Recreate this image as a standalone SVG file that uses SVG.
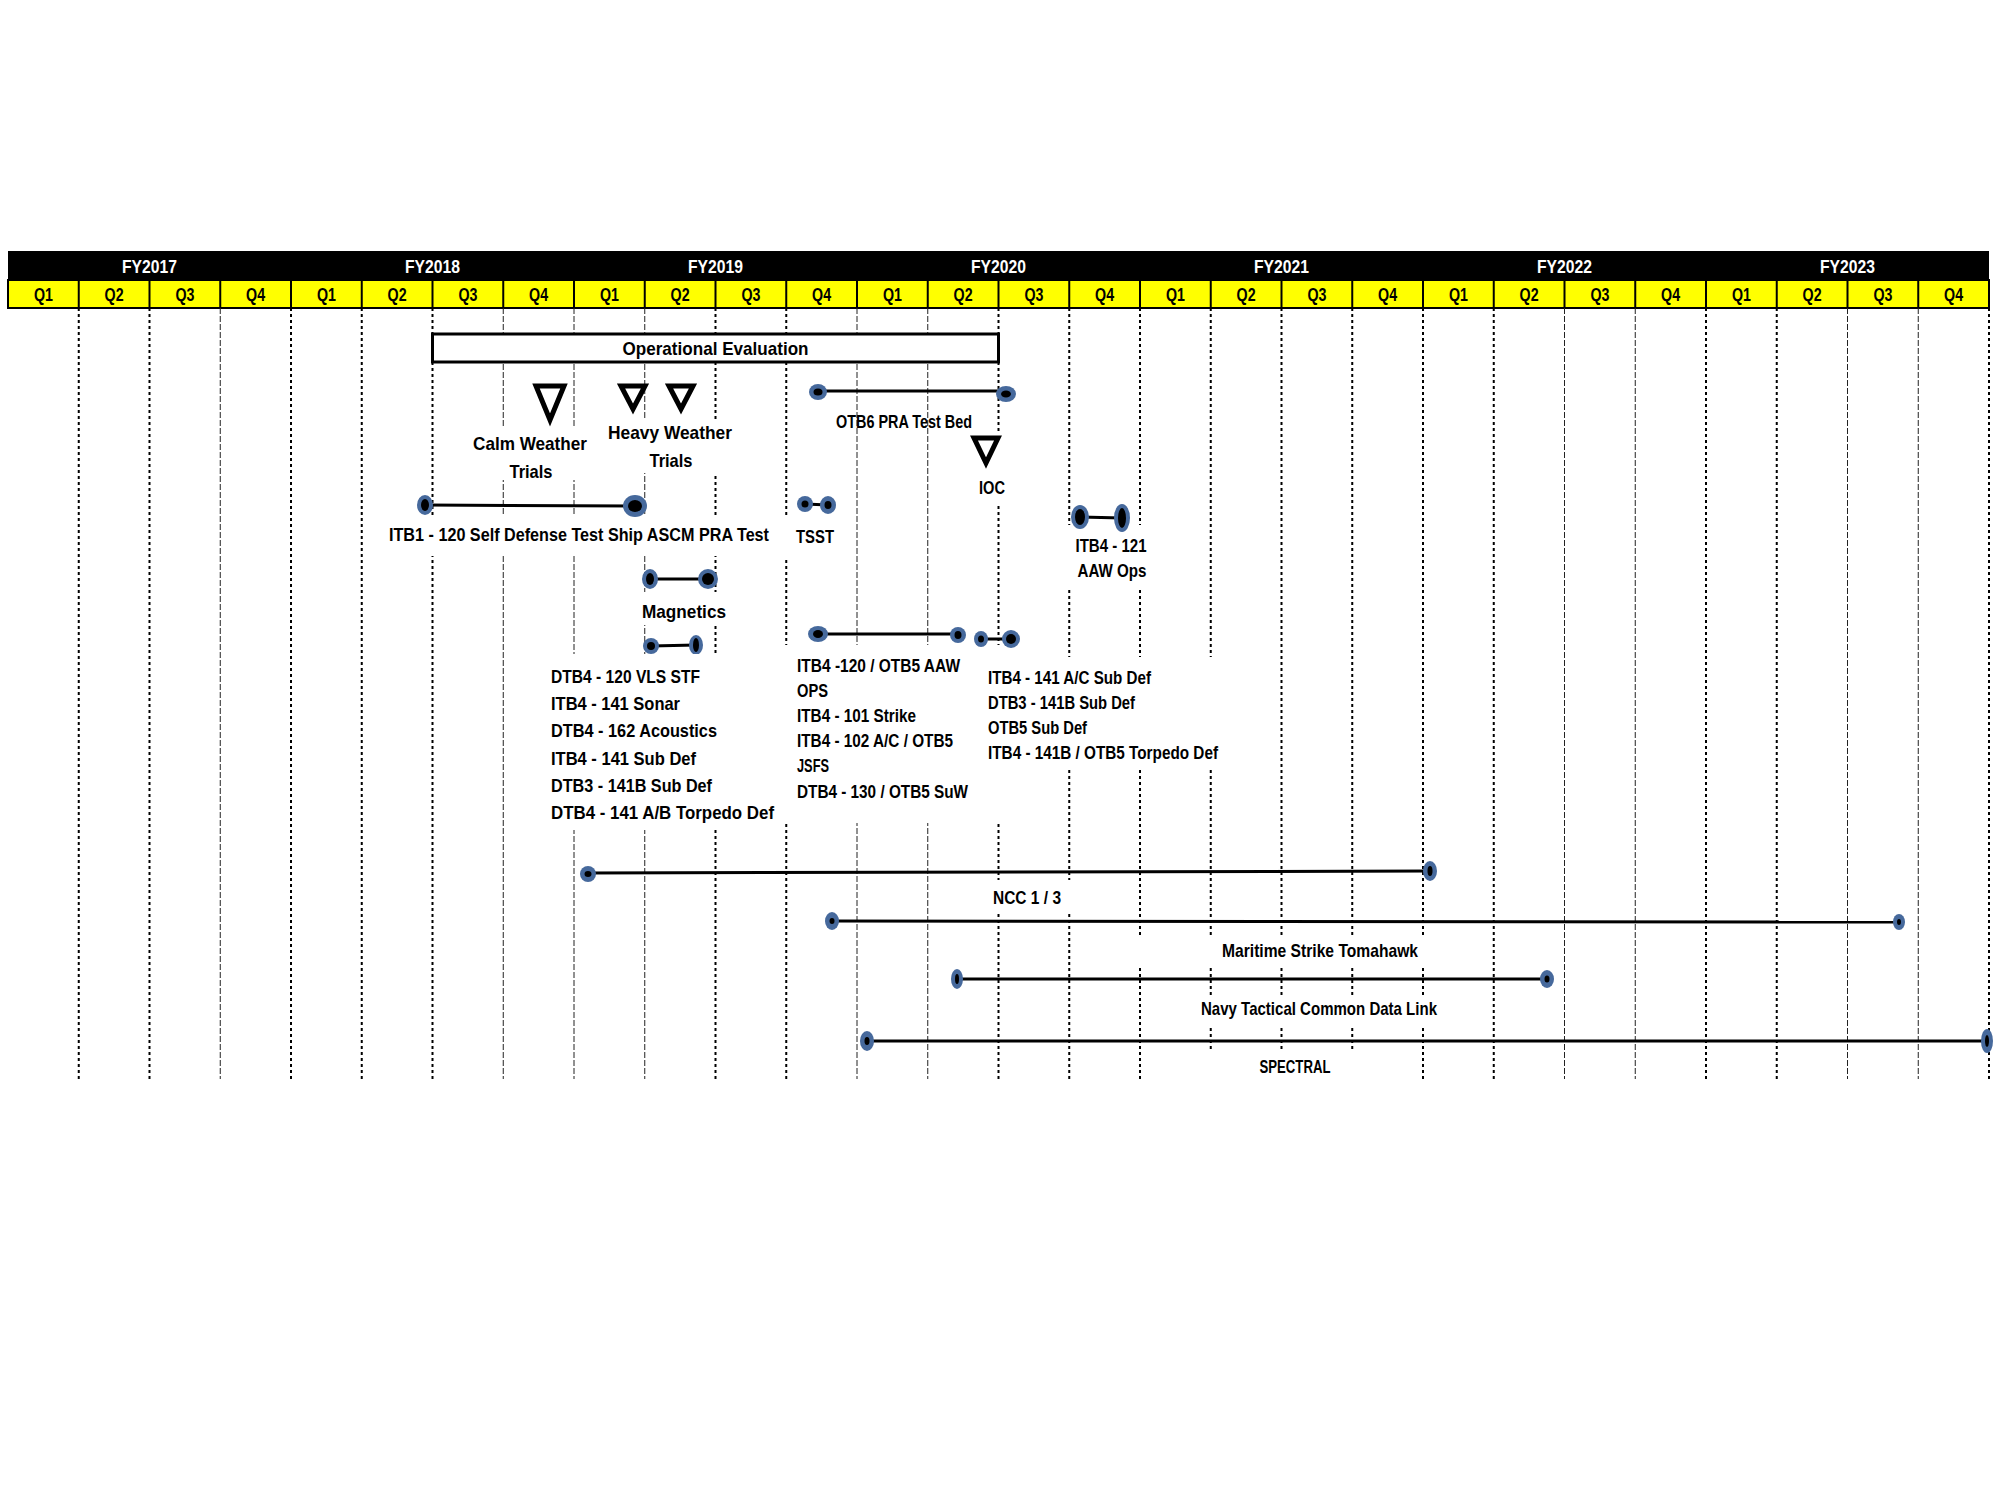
<svg xmlns="http://www.w3.org/2000/svg" width="2000" height="1500" viewBox="0 0 2000 1500">
<style>
text{font-family:"Liberation Sans",Arial,sans-serif;font-weight:bold;font-size:19px;fill:#000}
.fy{fill:#fff;text-anchor:middle}
.q{text-anchor:middle}
.c{text-anchor:middle}
.gd{stroke:#000;stroke-width:2;stroke-dasharray:3 3}
.gt{stroke:#222;stroke-width:1;stroke-dasharray:6 2}
.bar{stroke:#000;stroke-width:3;fill:none}
.dot{fill:#46699c}
.core{fill:#000}
.tri{fill:#fff;stroke:#000;stroke-width:5;stroke-linejoin:miter}
.bg{fill:#fff}
.qdiv{stroke:#000;stroke-width:2}
</style>
<rect width="2000" height="1500" fill="#fff"/>
<g id="header">
<rect x="8" y="251" width="1981" height="29" fill="#000"/>
<rect x="8" y="280" width="1981" height="28" fill="#ffff00" stroke="#000" stroke-width="2"/>
<g class="qdiv">
<line x1="78.75" y1="280" x2="78.75" y2="308"/><line x1="149.5" y1="280" x2="149.5" y2="308"/><line x1="220.25" y1="280" x2="220.25" y2="308"/><line x1="291" y1="280" x2="291" y2="308"/><line x1="361.75" y1="280" x2="361.75" y2="308"/><line x1="432.5" y1="280" x2="432.5" y2="308"/><line x1="503.25" y1="280" x2="503.25" y2="308"/><line x1="574" y1="280" x2="574" y2="308"/><line x1="644.75" y1="280" x2="644.75" y2="308"/><line x1="715.5" y1="280" x2="715.5" y2="308"/><line x1="786.25" y1="280" x2="786.25" y2="308"/><line x1="857" y1="280" x2="857" y2="308"/><line x1="927.75" y1="280" x2="927.75" y2="308"/><line x1="998.5" y1="280" x2="998.5" y2="308"/><line x1="1069.25" y1="280" x2="1069.25" y2="308"/><line x1="1140" y1="280" x2="1140" y2="308"/><line x1="1210.75" y1="280" x2="1210.75" y2="308"/><line x1="1281.5" y1="280" x2="1281.5" y2="308"/><line x1="1352.25" y1="280" x2="1352.25" y2="308"/><line x1="1423" y1="280" x2="1423" y2="308"/><line x1="1493.75" y1="280" x2="1493.75" y2="308"/><line x1="1564.5" y1="280" x2="1564.5" y2="308"/><line x1="1635.25" y1="280" x2="1635.25" y2="308"/><line x1="1706" y1="280" x2="1706" y2="308"/><line x1="1776.75" y1="280" x2="1776.75" y2="308"/><line x1="1847.5" y1="280" x2="1847.5" y2="308"/><line x1="1918.25" y1="280" x2="1918.25" y2="308"/>
</g>
<text class="fy" x="149.5" y="272.5" textLength="55" lengthAdjust="spacingAndGlyphs">FY2017</text>
<text class="fy" x="432.5" y="272.5" textLength="55" lengthAdjust="spacingAndGlyphs">FY2018</text>
<text class="fy" x="715.5" y="272.5" textLength="55" lengthAdjust="spacingAndGlyphs">FY2019</text>
<text class="fy" x="998.5" y="272.5" textLength="55" lengthAdjust="spacingAndGlyphs">FY2020</text>
<text class="fy" x="1281.5" y="272.5" textLength="55" lengthAdjust="spacingAndGlyphs">FY2021</text>
<text class="fy" x="1564.5" y="272.5" textLength="55" lengthAdjust="spacingAndGlyphs">FY2022</text>
<text class="fy" x="1847.5" y="272.5" textLength="55" lengthAdjust="spacingAndGlyphs">FY2023</text>
<g font-size="19">
<text class="q" x="43.4" y="301" textLength="19" lengthAdjust="spacingAndGlyphs">Q1</text><text class="q" x="114.1" y="301" textLength="19" lengthAdjust="spacingAndGlyphs">Q2</text><text class="q" x="184.9" y="301" textLength="19" lengthAdjust="spacingAndGlyphs">Q3</text><text class="q" x="255.6" y="301" textLength="19" lengthAdjust="spacingAndGlyphs">Q4</text>
<text class="q" x="326.4" y="301" textLength="19" lengthAdjust="spacingAndGlyphs">Q1</text><text class="q" x="397.1" y="301" textLength="19" lengthAdjust="spacingAndGlyphs">Q2</text><text class="q" x="467.9" y="301" textLength="19" lengthAdjust="spacingAndGlyphs">Q3</text><text class="q" x="538.6" y="301" textLength="19" lengthAdjust="spacingAndGlyphs">Q4</text>
<text class="q" x="609.4" y="301" textLength="19" lengthAdjust="spacingAndGlyphs">Q1</text><text class="q" x="680.1" y="301" textLength="19" lengthAdjust="spacingAndGlyphs">Q2</text><text class="q" x="750.9" y="301" textLength="19" lengthAdjust="spacingAndGlyphs">Q3</text><text class="q" x="821.6" y="301" textLength="19" lengthAdjust="spacingAndGlyphs">Q4</text>
<text class="q" x="892.4" y="301" textLength="19" lengthAdjust="spacingAndGlyphs">Q1</text><text class="q" x="963.1" y="301" textLength="19" lengthAdjust="spacingAndGlyphs">Q2</text><text class="q" x="1033.9" y="301" textLength="19" lengthAdjust="spacingAndGlyphs">Q3</text><text class="q" x="1104.6" y="301" textLength="19" lengthAdjust="spacingAndGlyphs">Q4</text>
<text class="q" x="1175.4" y="301" textLength="19" lengthAdjust="spacingAndGlyphs">Q1</text><text class="q" x="1246.1" y="301" textLength="19" lengthAdjust="spacingAndGlyphs">Q2</text><text class="q" x="1316.9" y="301" textLength="19" lengthAdjust="spacingAndGlyphs">Q3</text><text class="q" x="1387.6" y="301" textLength="19" lengthAdjust="spacingAndGlyphs">Q4</text>
<text class="q" x="1458.4" y="301" textLength="19" lengthAdjust="spacingAndGlyphs">Q1</text><text class="q" x="1529.1" y="301" textLength="19" lengthAdjust="spacingAndGlyphs">Q2</text><text class="q" x="1599.9" y="301" textLength="19" lengthAdjust="spacingAndGlyphs">Q3</text><text class="q" x="1670.6" y="301" textLength="19" lengthAdjust="spacingAndGlyphs">Q4</text>
<text class="q" x="1741.4" y="301" textLength="19" lengthAdjust="spacingAndGlyphs">Q1</text><text class="q" x="1812.1" y="301" textLength="19" lengthAdjust="spacingAndGlyphs">Q2</text><text class="q" x="1882.9" y="301" textLength="19" lengthAdjust="spacingAndGlyphs">Q3</text><text class="q" x="1953.6" y="301" textLength="19" lengthAdjust="spacingAndGlyphs">Q4</text>
</g>
</g>
<g id="grid">
<line class="gd" x1="78.75" y1="308" x2="78.75" y2="1079"/><line class="gd" x1="149.5" y1="308" x2="149.5" y2="1079"/><line class="gt" x1="220.25" y1="308" x2="220.25" y2="1079"/><line class="gd" x1="291" y1="308" x2="291" y2="1079"/><line class="gd" x1="361.75" y1="308" x2="361.75" y2="1079"/><line class="gd" x1="432.5" y1="308" x2="432.5" y2="1079"/><line class="gt" x1="503.25" y1="308" x2="503.25" y2="1079"/><line class="gt" x1="574" y1="308" x2="574" y2="1079"/><line class="gt" x1="644.75" y1="308" x2="644.75" y2="1079"/><line class="gd" x1="715.5" y1="308" x2="715.5" y2="1079"/><line class="gd" x1="786.25" y1="308" x2="786.25" y2="1079"/><line class="gt" x1="857" y1="308" x2="857" y2="1079"/><line class="gt" x1="927.75" y1="308" x2="927.75" y2="1079"/><line class="gd" x1="998.5" y1="308" x2="998.5" y2="1079"/><line class="gd" x1="1069.25" y1="308" x2="1069.25" y2="1079"/><line class="gd" x1="1140" y1="308" x2="1140" y2="1079"/><line class="gd" x1="1210.75" y1="308" x2="1210.75" y2="1079"/><line class="gd" x1="1281.5" y1="308" x2="1281.5" y2="1079"/><line class="gd" x1="1352.25" y1="308" x2="1352.25" y2="1079"/><line class="gd" x1="1423" y1="308" x2="1423" y2="1079"/><line class="gd" x1="1493.75" y1="308" x2="1493.75" y2="1079"/><line class="gt" x1="1564.5" y1="308" x2="1564.5" y2="1079"/><line class="gt" x1="1635.25" y1="308" x2="1635.25" y2="1079"/><line class="gd" x1="1706" y1="308" x2="1706" y2="1079"/><line class="gd" x1="1776.75" y1="308" x2="1776.75" y2="1079"/><line class="gt" x1="1847.5" y1="308" x2="1847.5" y2="1079"/><line class="gt" x1="1918.25" y1="308" x2="1918.25" y2="1079"/><line class="gd" x1="1989" y1="308" x2="1989" y2="1079"/>
</g>
<g id="connectors">
<line class="bar" x1="818" y1="391" x2="1006" y2="391"/>
<line class="bar" x1="425" y1="505" x2="635" y2="506"/>
<line class="bar" x1="805" y1="504" x2="828" y2="505"/>
<line class="bar" x1="1080" y1="517" x2="1122" y2="518"/>
<line class="bar" x1="650" y1="579" x2="708" y2="579"/>
<line class="bar" x1="651" y1="646" x2="696" y2="645"/>
<line class="bar" x1="818" y1="634" x2="958" y2="634"/>
<line class="bar" x1="981" y1="639" x2="1011" y2="639"/>
<line class="bar" x1="588" y1="873" x2="1430" y2="871" stroke-width="3.5"/>
<line class="bar" x1="832" y1="921" x2="1899" y2="922"/>
<line class="bar" x1="957" y1="979" x2="1547" y2="979"/>
<line class="bar" x1="867" y1="1041" x2="1986" y2="1041" stroke-width="4"/>
</g>
<g id="op-eval">
<rect x="432.5" y="334" width="566" height="28" fill="#fff" stroke="#000" stroke-width="3"/>
<text class="c" x="715.5" y="355" textLength="186" lengthAdjust="spacingAndGlyphs">Operational Evaluation</text>
</g>
<g id="calm-weather">
<rect class="bg" x="472" y="428" width="116" height="52"/>
<polygon class="tri" points="536,386 564,386 550,420"/>
<text class="c" x="530" y="450" textLength="114" lengthAdjust="spacingAndGlyphs">Calm Weather</text>
<text class="c" x="531" y="478" textLength="43" lengthAdjust="spacingAndGlyphs">Trials</text>
</g>
<g id="heavy-weather">
<rect class="bg" x="603" y="419" width="137" height="54"/>
<polygon class="tri" points="621,386 645,386 633,409"/>
<polygon class="tri" points="669,386 693,386 681,409"/>
<text class="c" x="670" y="439" textLength="124" lengthAdjust="spacingAndGlyphs">Heavy Weather</text>
<text class="c" x="671" y="467" textLength="43" lengthAdjust="spacingAndGlyphs">Trials</text>
</g>
<g id="otb6">
<ellipse class="dot" cx="818" cy="392" rx="9" ry="8"/><ellipse class="core" cx="818" cy="392" rx="4.5" ry="3.5"/>
<ellipse class="dot" cx="1006" cy="394" rx="10" ry="8"/><ellipse class="core" cx="1006" cy="394" rx="5" ry="3.5"/>
<text class="c" x="904" y="428" textLength="136" lengthAdjust="spacingAndGlyphs">OTB6 PRA Test Bed</text>
</g>
<g id="ioc">
<rect class="bg" x="965" y="432" width="40" height="73"/>
<polygon class="tri" points="974,438 998,438 986,463"/>
<text class="c" x="992" y="494" textLength="26" lengthAdjust="spacingAndGlyphs">IOC</text>
</g>
<g id="itb1">
<rect class="bg" x="386" y="516" width="389" height="40"/>
<ellipse class="dot" cx="425" cy="505" rx="8" ry="10"/><ellipse class="core" cx="425" cy="505" rx="4" ry="6"/>
<ellipse class="dot" cx="635" cy="506" rx="12" ry="11"/><ellipse class="core" cx="635" cy="506" rx="7" ry="6"/>
<text class="c" x="579" y="541" textLength="380" lengthAdjust="spacingAndGlyphs">ITB1 - 120 Self Defense Test Ship ASCM PRA Test</text>
</g>
<g id="tsst">
<rect class="bg" x="780" y="515" width="60" height="42"/>
<ellipse class="dot" cx="805" cy="504" rx="8" ry="8"/><ellipse class="core" cx="805" cy="504" rx="3.5" ry="3.5"/>
<ellipse class="dot" cx="828" cy="505" rx="8" ry="9"/><ellipse class="core" cx="828" cy="505" rx="3.5" ry="4"/>
<text class="c" x="815" y="543" textLength="38" lengthAdjust="spacingAndGlyphs">TSST</text>
</g>
<g id="itb4-121">
<rect class="bg" x="1063" y="525" width="90" height="63"/>
<ellipse class="dot" cx="1080" cy="517" rx="9" ry="12"/><ellipse class="core" cx="1080" cy="517" rx="5" ry="8"/>
<ellipse class="dot" cx="1122" cy="518" rx="8" ry="14"/><ellipse class="core" cx="1122" cy="518" rx="4" ry="10"/>
<text class="c" x="1111" y="552" textLength="71" lengthAdjust="spacingAndGlyphs">ITB4 - 121</text>
<text class="c" x="1112" y="577" textLength="69" lengthAdjust="spacingAndGlyphs">AAW Ops</text>
</g>
<g id="magnetics">
<rect class="bg" x="640" y="592" width="86" height="33"/>
<ellipse class="dot" cx="650" cy="579" rx="8" ry="10"/><ellipse class="core" cx="650" cy="579" rx="4" ry="6"/>
<ellipse class="dot" cx="708" cy="579" rx="10" ry="10"/><ellipse class="core" cx="708" cy="579" rx="6" ry="6"/>
<text class="c" x="684" y="618" textLength="84" lengthAdjust="spacingAndGlyphs">Magnetics</text>
</g>
<g id="dtb4-bar">
<ellipse class="dot" cx="651" cy="646" rx="8" ry="8"/><ellipse class="core" cx="651" cy="646" rx="4" ry="4"/>
<ellipse class="dot" cx="696" cy="645" rx="7" ry="10"/><ellipse class="core" cx="696" cy="645" rx="3" ry="7"/>
</g>
<g id="dtb4-list">
<rect class="bg" x="545" y="654" width="233" height="176"/>
<text x="551" y="683" textLength="149" lengthAdjust="spacingAndGlyphs">DTB4 - 120 VLS STF</text>
<text x="551" y="710" textLength="129" lengthAdjust="spacingAndGlyphs">ITB4 - 141 Sonar</text>
<text x="551" y="737" textLength="166" lengthAdjust="spacingAndGlyphs">DTB4 - 162 Acoustics</text>
<text x="551" y="765" textLength="145" lengthAdjust="spacingAndGlyphs">ITB4 - 141 Sub Def</text>
<text x="551" y="792" textLength="161" lengthAdjust="spacingAndGlyphs">DTB3 - 141B Sub Def</text>
<text x="551" y="819" textLength="223" lengthAdjust="spacingAndGlyphs">DTB4 - 141 A/B Torpedo Def</text>
</g>
<g id="itb4-120">
<rect class="bg" x="780" y="645" width="222" height="178"/>
<ellipse class="dot" cx="818" cy="634" rx="10" ry="8"/><ellipse class="core" cx="818" cy="634" rx="5" ry="4"/>
<ellipse class="dot" cx="958" cy="635" rx="8" ry="8"/><ellipse class="core" cx="958" cy="635" rx="3.5" ry="4"/>
<text x="797" y="672" textLength="163" lengthAdjust="spacingAndGlyphs">ITB4 -120 / OTB5 AAW</text>
<text x="797" y="697" textLength="31" lengthAdjust="spacingAndGlyphs">OPS</text>
<text x="797" y="722" textLength="119" lengthAdjust="spacingAndGlyphs">ITB4 - 101 Strike</text>
<text x="797" y="747" textLength="156" lengthAdjust="spacingAndGlyphs">ITB4 - 102 A/C / OTB5</text>
<text x="797" y="772" textLength="32" lengthAdjust="spacingAndGlyphs">JSFS</text>
<text x="797" y="798" textLength="171" lengthAdjust="spacingAndGlyphs">DTB4 - 130 / OTB5 SuW</text>
</g>
<g id="itb4-141">
<rect class="bg" x="985" y="657" width="240" height="111"/>
<ellipse class="dot" cx="981" cy="639" rx="7" ry="8"/><ellipse class="core" cx="981" cy="639" rx="3" ry="3.5"/>
<ellipse class="dot" cx="1011" cy="639" rx="9" ry="9"/><ellipse class="core" cx="1011" cy="639" rx="5" ry="5"/>
<text x="988" y="684" textLength="163" lengthAdjust="spacingAndGlyphs">ITB4 - 141 A/C Sub Def</text>
<text x="988" y="709" textLength="147" lengthAdjust="spacingAndGlyphs">DTB3 - 141B Sub Def</text>
<text x="988" y="734" textLength="99" lengthAdjust="spacingAndGlyphs">OTB5 Sub Def</text>
<text x="988" y="759" textLength="230" lengthAdjust="spacingAndGlyphs">ITB4 - 141B / OTB5 Torpedo Def</text>
</g>
<g id="ncc">
<rect class="bg" x="990" y="880" width="90" height="34"/>
<ellipse class="dot" cx="588" cy="874" rx="8" ry="8"/><ellipse class="core" cx="588" cy="874" rx="3.5" ry="3"/>
<ellipse class="dot" cx="1430" cy="871" rx="7" ry="10"/><ellipse class="core" cx="1430" cy="871" rx="2.5" ry="5"/>
<text class="c" x="1027" y="904" font-weight="normal" textLength="68" lengthAdjust="spacingAndGlyphs">NCC 1 / 3</text>
</g>
<g id="maritime">
<rect class="bg" x="1135" y="936" width="300" height="31"/>
<ellipse class="dot" cx="832" cy="921" rx="7" ry="9"/><ellipse class="core" cx="832" cy="921" rx="2.5" ry="3"/>
<ellipse class="dot" cx="1899" cy="922" rx="6" ry="8"/><ellipse class="core" cx="1899" cy="922" rx="2" ry="3"/>
<text class="c" x="1320" y="957" textLength="196" lengthAdjust="spacingAndGlyphs">Maritime Strike Tomahawk</text>
</g>
<g id="navy-tcdl">
<rect class="bg" x="1195" y="995" width="245" height="32"/>
<ellipse class="dot" cx="957" cy="979" rx="6" ry="10"/><ellipse class="core" cx="957" cy="979" rx="2" ry="5"/>
<ellipse class="dot" cx="1547" cy="979" rx="7" ry="9"/><ellipse class="core" cx="1547" cy="979" rx="2.5" ry="3.5"/>
<text class="c" x="1319" y="1015" textLength="236" lengthAdjust="spacingAndGlyphs">Navy Tactical Common Data Link</text>
</g>
<g id="spectral">
<rect class="bg" x="1190" y="1049" width="195" height="35"/>
<ellipse class="dot" cx="867" cy="1041" rx="7" ry="10"/><ellipse class="core" cx="867" cy="1041" rx="2.5" ry="4"/>
<ellipse class="dot" cx="1987" cy="1041" rx="6" ry="12"/><ellipse class="core" cx="1987" cy="1041" rx="2" ry="6"/>
<text class="c" x="1295" y="1073" textLength="71" lengthAdjust="spacingAndGlyphs">SPECTRAL</text>
</g>
</svg>
